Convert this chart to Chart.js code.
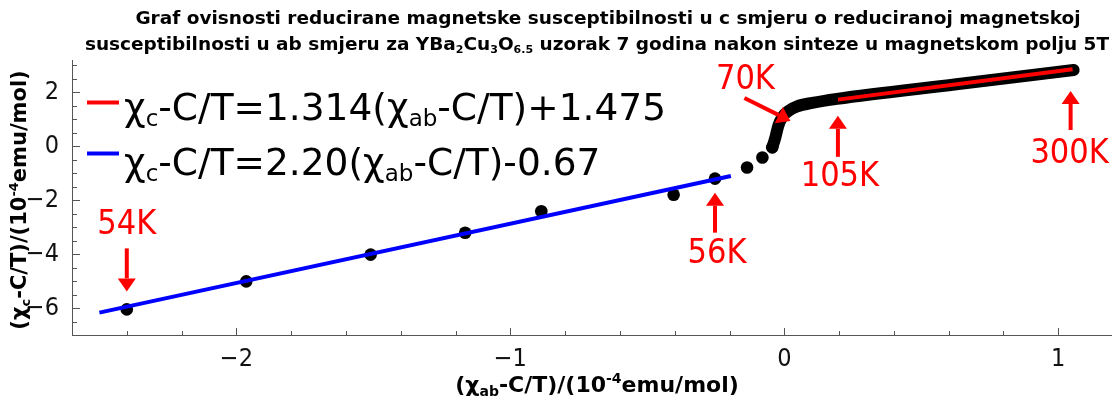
<!DOCTYPE html>
<html>
<head>
<meta charset="utf-8">
<title>Graf ovisnosti reducirane magnetske susceptibilnosti</title>
<script src="https://cdn.jsdelivr.net/npm/chart.js"></script>
<style>
  html, body { margin: 0; padding: 0; background: #fff; }
</style>
</head>
<body>
<canvas id="chiChart" width="1118" height="403"></canvas>

<script>
// x = chi_ab - C/T, y = chi_c - C/T, both in 1e-4 emu/mol
const lowTX = [-2.40, -1.964, -1.51, -1.165, -0.887, -0.404, -0.253, -0.136, -0.080, -0.044];
const lowTY = [-6.05, -5.01, -4.02, -3.21, -2.41, -1.80, -1.20, -0.785, -0.415, -0.04];
// dense part (up to 300K)
const curveX = [-0.044, -0.033, -0.022, -0.007, 0.015, 0.047, 0.102, 0.192, 0.628, 1.056];
const curveY = [-0.04, 0.31, 0.76, 1.09, 1.31, 1.48, 1.61, 1.76, 2.30, 2.83];
// fit line end points
const redFitX = [0.196, 1.052];
const redFitY = [1.73, 2.86];
const blueFitX = [-2.50, -0.195];
const blueFitY = [-6.17, -1.10];
const xTicks = [-2, -1, 0, 1];
const yTicks = [-6, -4, -2, 0, 2];
const tempLabels = ['54K', '56K', '70K', '105K', '300K'];
const tempX = [-2.40, -0.253, 0.015, 0.192, 1.056];
const tempY = [-6.05, -1.20, 1.31, 1.76, 2.83];

const FONT = "'DejaVu Sans', sans-serif";
const FONT_NARROW = "'DejaVu Sans Condensed', 'DejaVu Sans', sans-serif";
const RED = '#ff0000';
const BLUE = '#0000ff';

// pixel offsets of arrow tail, arrow tip and label centre from the marked point
const annotLayout = [
  { tail: [0, -61], tip: [0, -18], text: [0, -84] },
  { tail: [0, 54], tip: [0, 14], text: [2, 76] },
  { tail: [-44, -13], tip: [2, 10], text: [-43, -31] },
  { tail: [1, 58], tip: [1, 17], text: [3, 78] },
  { tail: [-3, 60], tip: [-3, 21], text: [-4, 84] }
];

const toXY = (xs, ys) => xs.map((x, i) => ({ x: x, y: ys[i] }));

function drawRich(ctx, parts, x, y, size, weight, align, color) {
  const fontFor = k => weight + ' ' + (k ? Math.round(size * 0.62) : size) + 'px ' + FONT;
  let w = 0;
  parts.forEach(p => { ctx.font = fontFor(p[1]); w += ctx.measureText(p[0]).width; });
  let cx = align === 'center' ? x - w / 2 : (align === 'right' ? x - w : x);
  ctx.fillStyle = color;
  ctx.textAlign = 'left';
  ctx.textBaseline = 'alphabetic';
  parts.forEach(p => {
    ctx.font = fontFor(p[1]);
    const dy = p[1] === 'sub' ? size * 0.17 : (p[1] === 'sup' ? -size * 0.4 : 0);
    ctx.fillText(p[0], cx, y + dy);
    cx += ctx.measureText(p[0]).width;
  });
  return w;
}

function arrow(ctx, x0, y0, x1, y1) {
  const a = Math.atan2(y1 - y0, x1 - x0);
  const hl = 13, hw = 9;
  const bx = x1 - hl * Math.cos(a), by = y1 - hl * Math.sin(a);
  ctx.strokeStyle = RED;
  ctx.lineWidth = 4;
  ctx.beginPath();
  ctx.moveTo(x0, y0);
  ctx.lineTo(bx, by);
  ctx.stroke();
  ctx.fillStyle = RED;
  ctx.beginPath();
  ctx.moveTo(x1, y1);
  ctx.lineTo(bx + hw * Math.sin(a), by - hw * Math.cos(a));
  ctx.lineTo(bx - hw * Math.sin(a), by + hw * Math.cos(a));
  ctx.closePath();
  ctx.fill();
}

const decorations = {
  id: 'decorations',
  afterDraw(chart) {
    const ctx = chart.ctx;
    const xs = chart.scales.x, ys = chart.scales.y;
    const area = chart.chartArea;
    ctx.save();

    // inward tick marks, Mathematica style
    ctx.strokeStyle = '#555';
    ctx.lineWidth = 1;
    ctx.beginPath();
    for (let v = -2.4; v <= 1.2; v += 0.2) {
      const px = Math.round(xs.getPixelForValue(v)) + 0.5;
      if (px > area.right) break;
      const major = xTicks.some(t => Math.abs(t - v) < 1e-6);
      ctx.moveTo(px, area.bottom);
      ctx.lineTo(px, area.bottom - (major ? 7 : 4));
    }
    for (let v = -6.5; v <= 3.01; v += 0.5) {
      const py = Math.round(ys.getPixelForValue(v)) + 0.5;
      const major = yTicks.some(t => Math.abs(t - v) < 1e-6);
      ctx.moveTo(area.left, py);
      ctx.lineTo(area.left + (major ? 8 : 5), py);
    }
    ctx.stroke();

    // temperature markers
    tempLabels.forEach((lab, i) => {
      const px = xs.getPixelForValue(tempX[i]);
      const py = ys.getPixelForValue(tempY[i]);
      const L = annotLayout[i];
      arrow(ctx, px + L.tail[0], py + L.tail[1], px + L.tip[0], py + L.tip[1]);
      ctx.font = '34px ' + FONT_NARROW;
      ctx.fillStyle = RED;
      ctx.textAlign = 'center';
      ctx.textBaseline = 'middle';
      ctx.fillText(lab, px + L.text[0], py + L.text[1]);
    });

    // legend
    ctx.lineWidth = 4;
    ctx.strokeStyle = RED;
    ctx.beginPath(); ctx.moveTo(87, 102.5); ctx.lineTo(119, 102.5); ctx.stroke();
    ctx.strokeStyle = BLUE;
    ctx.beginPath(); ctx.moveTo(87, 153.5); ctx.lineTo(119, 153.5); ctx.stroke();
    drawRich(ctx, [['χ', ''], ['c', 'sub'], ['-C/T=1.314(', ''], ['χ', ''], ['ab', 'sub'], ['-C/T)+1.475', '']],
      124, 120, 37.5, 'normal', 'left', '#000');
    drawRich(ctx, [['χ', ''], ['c', 'sub'], ['-C/T=2.20(', ''], ['χ', ''], ['ab', 'sub'], ['-C/T)-0.67', '']],
      124, 175, 37.5, 'normal', 'left', '#000');

    // title
    drawRich(ctx, [['Graf ovisnosti reducirane magnetske susceptibilnosti u c smjeru o reduciranoj magnetskoj', '']],
      608, 24, 18.5, 'bold', 'center', '#000');
    drawRich(ctx, [['susceptibilnosti u ab smjeru za YBa', ''], ['2', 'sub'], ['Cu', ''], ['3', 'sub'], ['O', ''], ['6.5', 'sub'],
      [' uzorak 7 godina nakon sinteze u magnetskom polju 5T', '']],
      597, 50, 18.5, 'bold', 'center', '#000');

    // axis titles
    drawRich(ctx, [['(χ', ''], ['ab', 'sub'], ['-C/T)/(10', ''], ['-4', 'sup'], ['emu/mol)', '']],
      597, 392, 22, 'bold', 'center', '#000');
    ctx.translate(26, 200);
    ctx.rotate(-Math.PI / 2);
    drawRich(ctx, [['(χ', ''], ['c', 'sub'], ['-C/T)/(10', ''], ['-4', 'sup'], ['emu/mol)', '']],
      0, 0, 21, 'bold', 'center', '#000');
    ctx.restore();
  }
};

const tickFont = { family: FONT_NARROW, size: 25 };
const fmt = v => (v < 0 ? '\u2212' + Math.abs(v) : String(v));

new Chart(document.getElementById('chiChart').getContext('2d'), {
  type: 'scatter',
  data: {
    datasets: [
      { type: 'line', data: toXY(redFitX, redFitY), borderColor: RED, borderWidth: 4, pointRadius: 0 },
      { type: 'line', data: toXY(blueFitX, blueFitY), borderColor: BLUE, borderWidth: 4, pointRadius: 0 },
      { type: 'line', data: toXY(curveX, curveY), borderColor: '#000', borderWidth: 12, pointRadius: 0,
        borderCapStyle: 'round', borderJoinStyle: 'round', cubicInterpolationMode: 'monotone' },
      { data: toXY(lowTX, lowTY), backgroundColor: '#000', borderWidth: 0, pointRadius: 6.3 }
    ]
  },
  options: {
    responsive: false,
    animation: false,
    layout: { padding: { top: 60, right: 2, left: 0, bottom: 0 } },
    plugins: { legend: { display: false }, title: { display: false }, tooltip: { enabled: false } },
    scales: {
      x: {
        type: 'linear', min: -2.6, max: 1.195,
        grid: { display: false },
        border: { color: '#555', width: 1 },
        ticks: { font: tickFont, color: '#111', padding: 1, callback: fmt, maxRotation: 0 },
        afterBuildTicks: s => { s.ticks = xTicks.map(v => ({ value: v })); },
        afterFit: s => { s.height = 68; }
      },
      y: {
        type: 'linear', min: -7, max: 3.2,
        grid: { display: false },
        border: { color: '#555', width: 1 },
        ticks: { font: tickFont, color: '#111', padding: 5, callback: fmt },
        afterBuildTicks: s => { s.ticks = yTicks.map(v => ({ value: v })); },
        afterFit: s => { s.width = 72; }
      }
    }
  },
  plugins: [decorations]
});
</script>
</body>
</html>
